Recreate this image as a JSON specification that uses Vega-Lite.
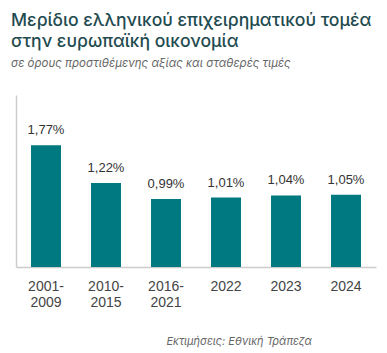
{
  "$schema": "https://vega.github.io/schema/vega-lite/v6.json",
  "width": 360,
  "height": 172,
  "autosize": {"type": "none"},
  "padding": {"left": 16, "top": 95, "right": 11, "bottom": 86},
  "background": "#ffffff",
  "title": {
    "text": ["Μερίδιο ελληνικού επιχειρηματικού τομέα", "στην ευρωπαϊκή οικονομία"],
    "subtitle": "σε όρους προστιθέμενης αξίας και σταθερές τιμές",
    "anchor": "start",
    "frame": "group",
    "dx": -5,
    "offset": 26,
    "font": "Inter",
    "fontSize": 17.6,
    "fontWeight": 500,
    "lineHeight": 21,
    "color": "#1f4b50",
    "subtitleFont": "Inter",
    "subtitleFontSize": 11.5,
    "subtitleFontStyle": "italic",
    "subtitleColor": "#666666",
    "subtitlePadding": 7
  },
  "data": {
    "values": [
      {"period": "2001-2009", "share": 1.77},
      {"period": "2010-2015", "share": 1.22},
      {"period": "2016-2021", "share": 0.99},
      {"period": "2022", "share": 1.01},
      {"period": "2023", "share": 1.04},
      {"period": "2024", "share": 1.05}
    ]
  },
  "transform": [
    {"calculate": "replace(format(datum.share, '.2f'), '.', ',') + '%'", "as": "label"}
  ],
  "encoding": {
    "x": {
      "field": "period",
      "type": "nominal",
      "sort": null,
      "scale": {"paddingInner": 0.5, "paddingOuter": 0.25},
      "axis": {
        "title": "Εκτιμήσεις: Εθνική Τράπεζα",
        "titleFont": "Inter",
        "titleFontSize": 11,
        "titleFontStyle": "italic",
        "titleFontWeight": "normal",
        "titleColor": "#666666",
        "titleAnchor": "start",
        "titleAlign": "left",
        "titleBaseline": "alphabetic",
        "titleX": 150,
        "titleY": 77,
        "labelAngle": 0,
        "labelFont": "Liberation Sans",
        "labelFontSize": 14,
        "labelColor": "#444444",
        "labelPadding": 12,
        "labelLineHeight": 16,
        "labelExpr": "length(datum.label) > 4 ? [slice(datum.label, 0, 5), slice(datum.label, 5)] : datum.label",
        "ticks": false,
        "domainColor": "#cccccc",
        "domainWidth": 1.5,
        "grid": false
      }
    },
    "y": {
      "field": "share",
      "type": "quantitative",
      "scale": {"domain": [0, 2.5], "nice": false},
      "axis": {
        "title": null,
        "labels": false,
        "ticks": false,
        "grid": false,
        "domainColor": "#cccccc",
        "domainWidth": 1.5
      }
    }
  },
  "layer": [
    {"mark": {"type": "bar", "color": "#007a80"}},
    {
      "mark": {"type": "text", "baseline": "alphabetic", "dy": -11, "font": "Liberation Sans", "fontSize": 13, "color": "#333333"},
      "encoding": {"text": {"field": "label"}}
    }
  ],
  "config": {"view": {"stroke": null}}
}
